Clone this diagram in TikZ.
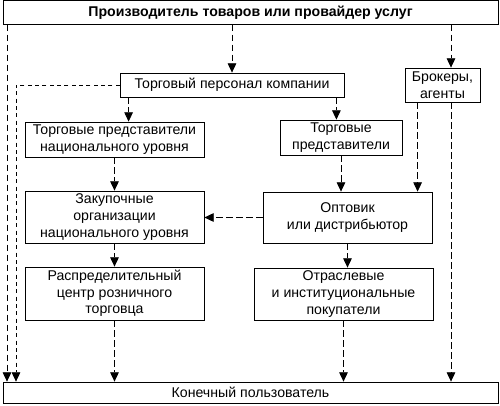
\documentclass[tikz,border=0pt]{standalone}
\usepackage{fontspec}
\setmainfont{Liberation Sans}
\usetikzlibrary{arrows.meta}

\begin{document}
\begin{tikzpicture}[
        x=0.75pt, y=-0.75pt,
        font=\fontsize{10.6}{12.5}\selectfont,
        unit/.style={rectangle, draw, align=center, inner sep=0pt, line width=0.6pt},
        flow/.style={draw, -{Triangle[length=7pt, width=6.5pt]}, line width=0.6pt, dash pattern=on 5pt off 2.5pt},
        fine/.style={flow, dash pattern=on 3pt off 2.5pt}
        ]
        \useasboundingbox (0,0) rectangle (500,406);

        % Nodes
        \node (maker) [unit, minimum width=371.25pt, minimum height=18pt] at (250.5,12.25) {\textbf{Производитель товаров или провайдер услуг}};
        \node (staff) [unit, minimum width=168pt, minimum height=18pt] at (232,85) {Торговый персонал компании};
        \node (brokers) [unit, minimum width=56.25pt, minimum height=25.5pt] at (442.5,85) {Брокеры,\\агенты};
        \node (repnat) [unit, minimum width=134.25pt, minimum height=26.25pt] at (114.5,139.5) {Торговые представители\\национального уровня};
        \node (rep) [unit, minimum width=91.5pt, minimum height=26.25pt] at (341,137.5) {Торговые\\представители};
        \node (buy) [unit, minimum width=134.25pt, minimum height=39pt] at (114.5,217) {Закупочные\\организации\\национального уровня};
        \node (whole) [unit, minimum width=126.75pt, minimum height=38.25pt] at (347.5,217.5) {Оптовик\\или дистрибьютор};
        \node (retail) [unit, minimum width=134.25pt, minimum height=39.75pt] at (114.5,293.5) {Распределительный\\центр розничного\\торговца};
        \node (ind) [unit, minimum width=134.25pt, minimum height=39pt] at (343.5,294) {Отраслевые\\и институциональные\\покупатели};
        \node (user) [unit, minimum width=371.25pt, minimum height=15.75pt] at (250.5,392.5) {Конечный пользователь};

        % Lanes
        \coordinate (lane1) at (7,0);
        \coordinate (lane2) at (16,0);
        \coordinate (lane3) at (451,0);

        % Arrows
        \draw [flow] (maker.south -| staff) -- (staff.north);
        \draw [flow] (maker.south -| lane3) -- (brokers.north -| lane3);
        \draw [flow] (maker.south -| lane1) -- (user.north -| lane1);
        \draw [fine] (staff.west) -| (user.north -| lane2);
        \draw [flow] ([xshift=6.75pt]staff.south west) -- ([xshift=6.75pt]staff.south west |- repnat.north);
        \draw [flow] ([xshift=-6pt]staff.south east) -- ([xshift=-6pt]staff.south east |- rep.north);
        \draw [flow] (repnat.south) -- (buy.north);
        \draw [flow] (rep.south) -- (rep.south |- whole.north);
        \draw [flow] ([xshift=9.75pt]brokers.south west) -- ([xshift=9.75pt]brokers.south west |- whole.north);
        \draw [flow] (whole.west) -- (whole.west -| buy.east);
        \draw [flow] (buy.south) -- (retail.north);
        \draw [flow] (whole.south) -- (whole.south |- ind.north);
        \draw [flow] (retail.south) -- (retail.south |- user.north);
        \draw [flow] (ind.south) -- (ind.south |- user.north);
        \draw [flow] (brokers.south -| lane3) -- (user.north -| lane3);

    \end{tikzpicture}
\end{document}
